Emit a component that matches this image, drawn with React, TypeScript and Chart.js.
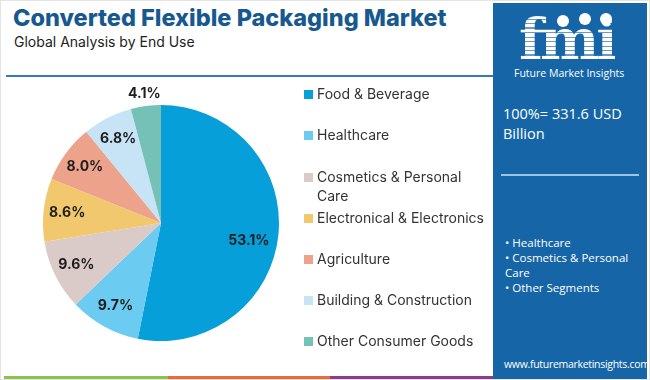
import React, { useEffect, useRef } from "react";
import { Chart, registerables } from "chart.js";

Chart.register(...registerables);

const categories = [
  "Food & Beverage",
  "Healthcare",
  "Cosmetics & Personal Care",
  "Electronical & Electronics",
  "Agriculture",
  "Building & Construction",
  "Other Consumer Goods",
];
const legendLines = [
  ["Food & Beverage"],
  ["Healthcare"],
  ["Cosmetics & Personal", "Care"],
  ["Electronical & Electronics"],
  ["Agriculture"],
  ["Building & Construction"],
  ["Other Consumer Goods"],
];
const shares = [53.1, 9.7, 9.6, 8.6, 8.0, 6.8, 4.1];
const colors = ["#079fd9", "#6ccbf1", "#dbcbc8", "#f1c86d", "#eda38b", "#c7e3f6", "#75c0b7"];
const title = "Converted Flexible Packaging Market";
const subtitle = "Global Analysis by End Use";
const totalText = ["100%= 331.6 USD", "Billion"];
const bullets = ["• Healthcare", "• Cosmetics & Personal", "Care", "• Other Segments"];

const labelPlugin = {
  id: "sliceLabels",
  afterDatasetsDraw(chart: any) {
    const ctx = chart.ctx;
    const meta = chart.getDatasetMeta(0);
    ctx.save();
    ctx.font = "700 14px Inter, 'Open Sans', sans-serif";
    ctx.fillStyle = "#1e1e1e";
    ctx.textAlign = "center";
    ctx.textBaseline = "middle";
    meta.data.forEach((arc: any, i: number) => {
      const p = arc.getProps(["x", "y", "startAngle", "endAngle", "outerRadius"], true);
      let mid = (p.startAngle + p.endAngle) / 2;
      let r = p.outerRadius * 0.8;
      if (i === 0) {
        mid += 0.1;
        r = p.outerRadius * 0.76;
      }
      if (i === shares.length - 1) r = p.outerRadius * 1.1;
      const x = p.x + Math.cos(mid) * r;
      const y = p.y + Math.sin(mid) * r;
      ctx.fillText(shares[i].toFixed(1) + "%", x, y);
    });
    ctx.restore();
  },
};

export default function App() {
  const ref = useRef<HTMLCanvasElement | null>(null);
  useEffect(() => {
    document.body.style.margin = "0";
    if (!ref.current) return;
    const chart = new Chart(ref.current, {
      type: "pie",
      data: {
        labels: categories,
        datasets: [{ data: shares, backgroundColor: colors, borderWidth: 0 }],
      },
      options: {
        animation: false,
        responsive: false,
        maintainAspectRatio: false,
        layout: { padding: 27 },
        plugins: { legend: { display: false }, tooltip: { enabled: false } },
      },
      plugins: [labelPlugin],
    });
    return () => chart.destroy();
  }, []);

  const font = "Inter, 'Open Sans', sans-serif";
  return (
    <div
      style={{
        position: "fixed",
        left: 0,
        top: 0,
        width: 650,
        height: 380,
        background: "#fff",
        overflow: "hidden",
        fontFamily: font,
        boxSizing: "border-box",
        border: "1px solid #e4e4e4",
      }}
    >
      <div
        style={{
          position: "absolute",
          left: 12,
          top: 2,
          fontSize: 23.5,
          fontWeight: 800,
          color: "#17598f",
          whiteSpace: "nowrap",
          letterSpacing: 0,
        }}
      >
        {title}
      </div>
      <div style={{ position: "absolute", left: 13, top: 32, fontSize: 14, color: "#222", whiteSpace: "nowrap" }}>
        {subtitle}
      </div>
      <div style={{ position: "absolute", left: 5, top: 74, width: 487, height: 2, background: "#3a78b2" }} />

      <canvas ref={ref} width={290} height={290} style={{ position: "absolute", left: 15, top: 77, width: 290, height: 290 }} />

      {legendLines.map((lines, i) => {
        const tops = [93, 134, 176, 217, 258, 299, 340];
        return (
          <div key={i} style={{ position: "absolute", left: 303, top: tops[i] - 10 }}>
            <div style={{ position: "absolute", left: 0, top: 6, width: 9, height: 9, background: colors[i] }} />
            {lines.map((t, j) => (
              <div
                key={j}
                style={{ position: "absolute", left: 13, top: j * 19, fontSize: 14, lineHeight: "20px", color: "#333", whiteSpace: "nowrap" }}
              >
                {t}
              </div>
            ))}
          </div>
        );
      })}

      <div style={{ position: "absolute", left: 3, top: 375, width: 164, height: 5, background: "#8cc24b" }} />
      <div style={{ position: "absolute", left: 167, top: 375, width: 162, height: 5, background: "#ea6a3b" }} />
      <div style={{ position: "absolute", left: 329, top: 375, width: 163, height: 5, background: "#8e3b8f" }} />

      <div style={{ position: "absolute", left: 492, top: 2, width: 154, height: 378, background: "#1666a7", color: "#fff" }}>
        <div
          style={{
            position: "absolute",
            left: 26,
            top: 8,
            fontFamily: "'DejaVu Serif', 'Liberation Serif', serif",
            fontWeight: 700,
            fontSize: 56,
            lineHeight: "56px",
            letterSpacing: -3,
            background: "repeating-linear-gradient(#fff 0 3px, rgba(255,255,255,0.35) 3px 4.5px)",
            WebkitBackgroundClip: "text",
            backgroundClip: "text",
            color: "transparent",
          }}
        >
          fmi
        </div>
        {[[70, 18], [92, 16], [113, 16]].map(([x, y], k) => (
          <div key={k} style={{ position: "absolute", left: x - 6, top: y - 6, width: 12, height: 12, borderRadius: 6, background: "#fff" }} />
        ))}
        <div style={{ position: "absolute", left: 21, top: 63, fontSize: 10.5, whiteSpace: "nowrap", fontFamily: "'Open Sans', sans-serif" }}>
          Future Market Insights
        </div>
        <div style={{ position: "absolute", left: 10, top: 101, fontSize: 14.5, lineHeight: "20px", fontFamily: "'Open Sans', sans-serif" }}>
          {totalText.map((t, i) => (
            <div key={i}>{t}</div>
          ))}
        </div>
        <div style={{ position: "absolute", left: 8, top: 171, width: 138, height: 2, background: "#9fc4e2" }} />
        <div style={{ position: "absolute", left: 12, top: 232, fontSize: 11.5, lineHeight: "15px", fontFamily: "'Open Sans', sans-serif", whiteSpace: "nowrap" }}>
          {bullets.map((t, i) => (
            <div key={i}>{t}</div>
          ))}
        </div>
        <div
          style={{
            position: "absolute",
            left: 11,
            top: 354,
            fontSize: 10.5,
            letterSpacing: -0.3,
            fontFamily: "'Open Sans', sans-serif",
            whiteSpace: "nowrap",
          }}
        >
          www.futuremarketinsights.com
        </div>
      </div>
    </div>
  );
}
